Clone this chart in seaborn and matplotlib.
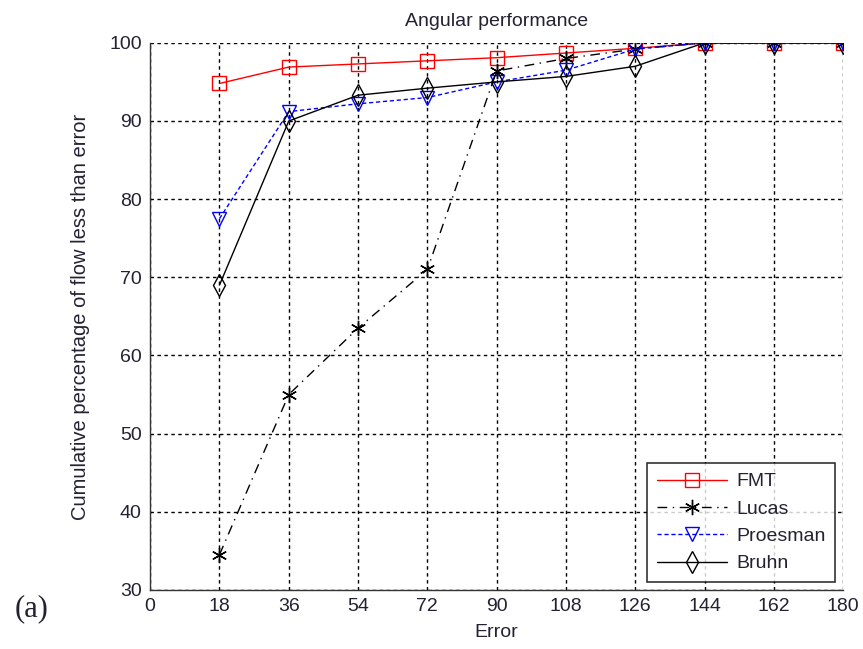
import matplotlib

matplotlib.use("Agg")
import matplotlib.pyplot as plt
import pandas as pd
import seaborn as sns

errors = [18, 36, 54, 72, 90, 108, 126, 144, 162, 180]
fmt = [94.8, 96.9, 97.3, 97.7, 98.1, 98.7, 99.3, 100, 100, 100]
lucas = [34.5, 55.0, 63.5, 71.0, 96.4, 98.0, 99.2, 100, 100, 100]
proesman = [77.5, 91.2, 92.2, 93.0, 95.0, 96.5, 99.2, 100, 100, 100]
bruhn = [69.0, 90.0, 93.3, 94.2, 95.0, 95.7, 97.0, 100, 100, 100]

series = {"FMT": fmt, "Lucas": lucas, "Proesman": proesman, "Bruhn": bruhn}
styles = {
    "FMT": dict(color="red", linestyle="-", marker="s", markersize=10,
                markerfacecolor="none", markeredgecolor="red"),
    "Lucas": dict(color="black", linestyle=(0, (7, 4, 1, 4)), marker=(6, 2, 0), markersize=11,
                  markerfacecolor="black", markeredgecolor="black"),
    "Proesman": dict(color="blue", linestyle=(0, (3, 2)), marker="v", markersize=10,
                     markerfacecolor="none", markeredgecolor="blue"),
    "Bruhn": dict(color="black", linestyle="-", marker="d", markersize=11,
                  markerfacecolor="none", markeredgecolor="black"),
}

df = pd.DataFrame(
    [(name, e, v) for name, vals in series.items() for e, v in zip(errors, vals)],
    columns=["method", "error", "pct"],
)

sns.set_style("white")
plt.rcParams["font.family"] = ["Liberation Sans", "DejaVu Sans"]
txt = "#222233"

fig = plt.figure(figsize=(8.63, 6.49), dpi=100)
ax = fig.add_axes([0.174, 0.091, 0.803, 0.843])

for name in series:
    sub = df[df["method"] == name]
    sns.lineplot(data=sub, x="error", y="pct", ax=ax, label=name,
                 linewidth=1.0, markeredgewidth=1.0, **styles[name])

ax.set_xlim(0, 180)
ax.set_ylim(30, 100)
ax.set_xticks(range(0, 181, 18))
ax.set_yticks(range(30, 101, 10))
ax.grid(True, color="black", linestyle=(0, (2.5, 2.5)), linewidth=1.0)
ax.spines["top"].set_visible(False)
ax.spines["right"].set_visible(False)
for s in ("left", "bottom"):
    ax.spines[s].set_color("#333333")
    ax.spines[s].set_linewidth(1.0)
ax.tick_params(direction="in", length=5, labelsize=14, colors="#333333",
               labelcolor=txt, pad=6)
ax.set_xlabel("Error", fontsize=14, color=txt, labelpad=6)
ax.set_ylabel("Cumulative percentage of flow less than error", fontsize=14.5,
              color=txt, labelpad=14)
ax.set_title("Angular performance", fontsize=14, color=txt, pad=12)

leg = ax.legend(loc="lower right", fontsize=14, frameon=True, fancybox=False,
                handlelength=3.6, borderaxespad=0.4, labelspacing=0.5,
                borderpad=0.5, handletextpad=0.5)
leg.get_frame().set_edgecolor("black")
leg.get_frame().set_linewidth(1.2)
for t in leg.get_texts():
    t.set_color(txt)

fig.text(0.017, 0.05, "(a)", fontsize=22, color=txt,
         family=["Liberation Serif", "DejaVu Serif"])

fig.savefig("out.png", dpi=100)
